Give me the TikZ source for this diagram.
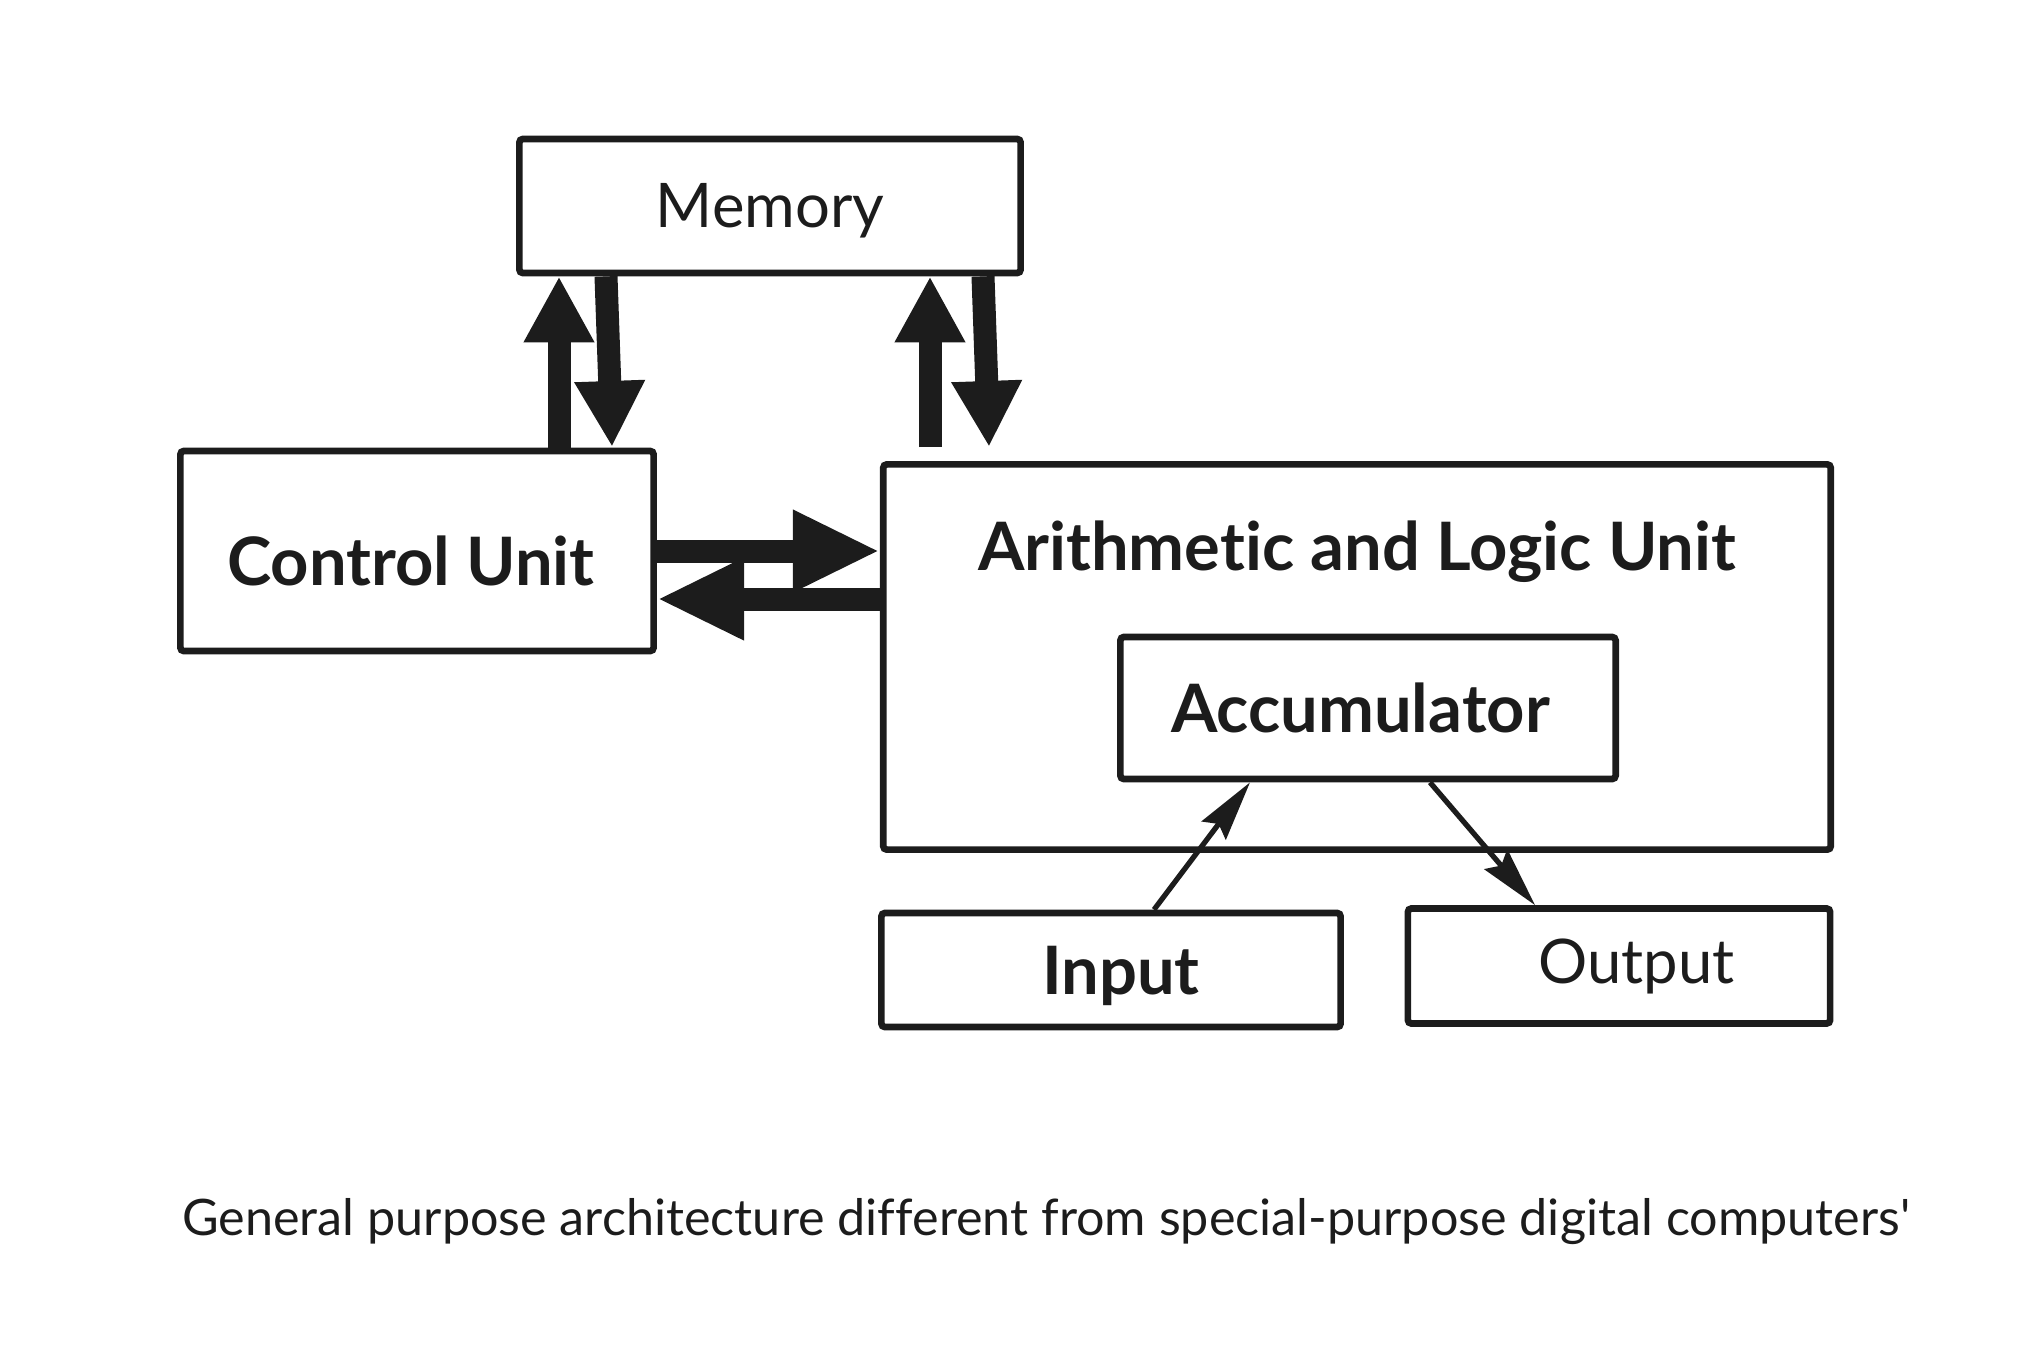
\documentclass[tikz,border=0pt]{standalone}
\usepackage{fontspec}
\setmainfont{Lato}[Ligatures={TeXOff,NoCommon}]
\usepackage{xcolor}
\usepackage{tikz}
\usetikzlibrary{arrows.meta,positioning}
\definecolor{ink}{HTML}{1C1C1C}

\begin{document}
\begin{tikzpicture}[x=0.01cm, y=-0.01cm, color=ink,
  box/.style={draw=ink, line width=1.9pt, rounded corners=1pt, inner sep=0pt},
  lbl/.style={font=\fontsize{17.5}{20}\selectfont},
  blbl/.style={font=\bfseries\fontsize{19}{22}\selectfont},
  fat/.style={line width=0.23cm, -{Triangle[length=0.66cm, width=0.66cm]}},
  fatwide/.style={line width=0.23cm, -{Triangle[length=0.87cm, width=0.76cm]}},
  thin/.style={line width=1.5pt, -{Stealth[length=0.6cm, width=0.3cm, inset=0.08cm]}}]
\useasboundingbox (0,0) rectangle (2042,1351);
% ---- boxes ----
\node[box, lbl, minimum width=5.01cm, minimum height=1.34cm] (mem) at (770,206)
  {\raisebox{-0.21cm}[0pt][0pt]{Memory}};
\node[box, blbl, minimum width=4.73cm, minimum height=2.00cm] (cu) at (417,551)
  {\raisebox{-0.34cm}[0pt][0pt]{Control Unit}\hspace*{0.12cm}};
\node[box, minimum width=9.47cm, minimum height=3.85cm] (alu) at (1357,657) {};
\node[blbl] (alut) at (1357,552) {Arithmetic and Logic Unit};
\node[box, blbl, minimum width=4.95cm, minimum height=1.42cm] (acc) at (1368,708)
  {Accumulator\hspace*{0.15cm}};
\node[box, blbl, minimum width=4.59cm, minimum height=1.14cm] (inp) at (1111,970)
  {\hspace*{0.2cm}\raisebox{-0.24cm}[0pt][0pt]{Input}};
\node[box, lbl, minimum width=4.22cm, minimum height=1.15cm] (outp) at (1619,966)
  {\hspace*{0.35cm}Output};
% ---- memory <-> control unit / alu ----
\coordinate (upA) at (559,0);
\coordinate (dnA) at (606,0);
\coordinate (dnAe) at (612,447);
\coordinate (upB) at (930,447);
\coordinate (dnB) at (983,0);
\coordinate (dnBe) at (989,447);
\draw[fat] (cu.north -| upA) -- (mem.south -| upA);
\draw[fat] (mem.south -| dnA) -- (dnAe);
\draw[fat] (upB) -- (mem.south -| upB);
\draw[fat] (mem.south -| dnB) -- (dnBe);
% ---- control unit <-> alu ----
\coordinate (rA) at (0,551);
\coordinate (lA) at (0,599);
\draw[fatwide] (cu.east |- rA) -- (alu.west |- rA);
\draw[fatwide] (alu.west |- lA) -- (cu.east |- lA);
% ---- accumulator i/o ----
\coordinate (inA) at (1154,0);
\coordinate (inB) at (1250,0);
\coordinate (outA) at (1430,0);
\coordinate (outB) at (1535,0);
\draw[thin] (inp.north -| inA) -- (acc.south -| inB);
\draw[thin] (acc.south -| outA) -- (outp.north -| outB);
% ---- caption ----
\node[font=\fontsize{14.3}{17}\selectfont] (cap) at (1046,1222)
  {General purpose architecture different from special-purpose digital computers'};
\end{tikzpicture}
\end{document}
